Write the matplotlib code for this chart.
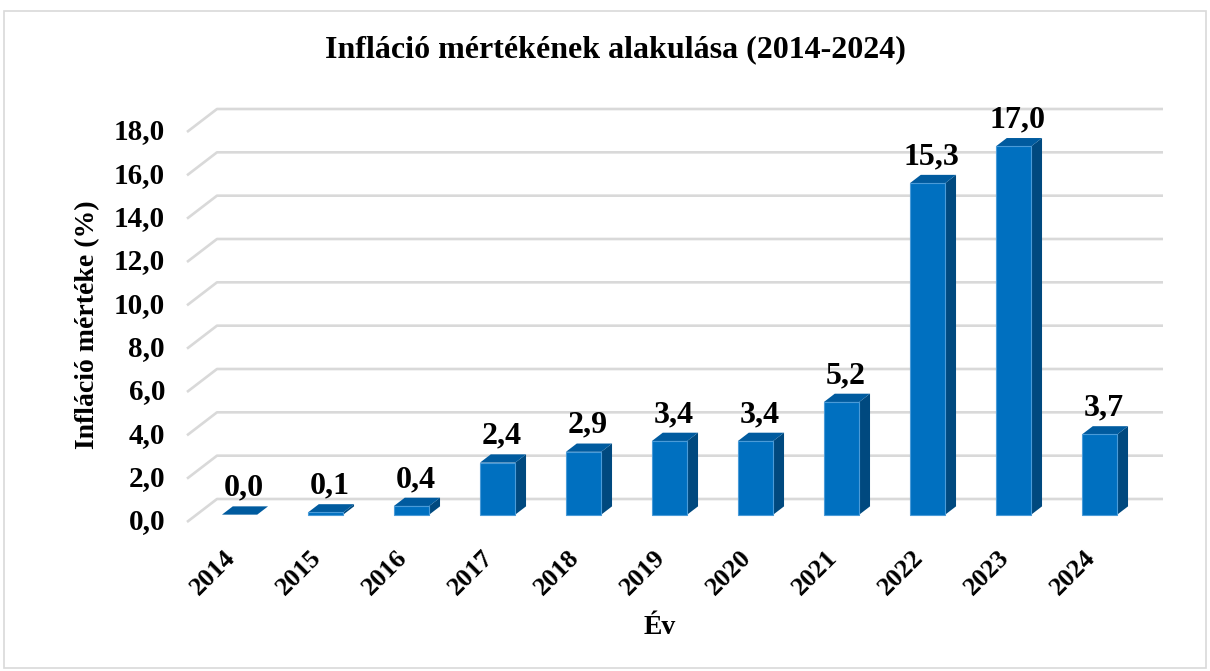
import matplotlib
matplotlib.use("Agg")
import matplotlib.pyplot as plt
from matplotlib.patches import Polygon, Rectangle
import matplotlib.transforms as mtransforms

years = ["2014", "2015", "2016", "2017", "2018", "2019", "2020", "2021", "2022", "2023", "2024"]
inflation = [0.0, 0.1, 0.4, 2.4, 2.9, 3.4, 3.4, 5.2, 15.3, 17.0, 3.7]
yticks = [0, 2, 4, 6, 8, 10, 12, 14, 16, 18]
title = "Infláció mértékének alakulása (2014-2024)"
xlabel = "Év"
ylabel = "Infláció mértéke (%)"

FONT = "Liberation Serif"
W, H = 1210, 671
fig = plt.figure(figsize=(W / 100, H / 100), dpi=100)
fig.patch.set_facecolor("white")

# front plane of the 3D box in pixels
left_px, right_px = 187, 1133
bot_px, top_px = 522, 132
ax = fig.add_axes([left_px / W, (H - bot_px) / H, (right_px - left_px) / W, (bot_px - top_px) / H])
n = len(years)
ax.set_xlim(-0.5, n - 0.5)
ax.set_ylim(0, 18)
ax.axis("off")

px_per_x = (right_px - left_px) / n
px_per_y = (bot_px - top_px) / 18.0
DX = 30 / px_per_x   # depth offset in data units
DY = 23 / px_per_y

grid_col = "#D9D9D9"
for v in yticks:
    ax.plot([-0.5, -0.5 + DX, n - 0.5 + DX], [v, v + DY, v + DY],
            color=grid_col, lw=1.9, clip_on=False, zorder=1, solid_capstyle="butt")
    ax.text(-0.5, v, f"{v:.1f}".replace(".", ","), ha="right", va="center",
            fontsize=21, fontweight="bold", family=FONT,
            transform=ax.transData + mtransforms.ScaledTranslation(-22 / 100, 0, fig.dpi_scale_trans))

front_col = "#0070C0"
top_col = "#005B9F"
side_col = "#00497F"
edge_col = "#4A9BD8"
w = 0.41
d0, d1 = 0.32, 0.68
for i, v in enumerate(inflation):
    xl0 = i - w / 2 + d0 * DX
    xr0 = i + w / 2 + d0 * DX
    xl1 = i - w / 2 + d1 * DX
    xr1 = i + w / 2 + d1 * DX
    y0 = d0 * DY
    y1 = d1 * DY
    # side
    ax.add_patch(Polygon([(xr0, y0), (xr0, v + y0), (xr1, v + y1), (xr1, y1)],
                         closed=True, facecolor=side_col, edgecolor="none", zorder=3, clip_on=False))
    # top
    ax.add_patch(Polygon([(xl0, v + y0), (xr0, v + y0), (xr1, v + y1), (xl1, v + y1)],
                         closed=True, facecolor=top_col, edgecolor="none", zorder=3, clip_on=False))
    # front
    if v > 0:
        ax.add_patch(Rectangle((xl0, y0), xr0 - xl0, v, facecolor=front_col,
                               edgecolor=edge_col, lw=0.8, zorder=4, clip_on=False))
    # data label
    ax.text(i + d0 * DX + 0.05, v + y0, f"{v:.1f}".replace(".", ","), ha="center", va="baseline",
            fontsize=23, fontweight="bold", family=FONT, zorder=5,
            transform=ax.transData + mtransforms.ScaledTranslation(0, 19 / 100, fig.dpi_scale_trans))
    # x tick label
    ax.text(i, 0, years[i], ha="right", va="center", rotation=45, rotation_mode="anchor",
            fontsize=19, fontweight="bold", family=FONT,
            transform=ax.transData + mtransforms.ScaledTranslation(2 / 100, -32 / 100, fig.dpi_scale_trans))

fig.text(615 / W, 1 - 50 / H, title, ha="center", va="center", fontsize=23,
         fontweight="bold", family=FONT)
fig.text(660 / W, 1 - 628 / H, xlabel, ha="center", va="center", fontsize=20,
         fontweight="bold", family=FONT)
fig.text(88 / W, 1 - 325 / H, ylabel, ha="center", va="center", rotation=90, fontsize=20,
         fontweight="bold", family=FONT)

fig.patches.append(Rectangle((4 / W, 1 - 668 / H), 1202 / W, 657 / H, transform=fig.transFigure,
                             facecolor="none", edgecolor="#D9D9D9", lw=1.2))

fig.savefig("out.png", dpi=100, facecolor="white")
